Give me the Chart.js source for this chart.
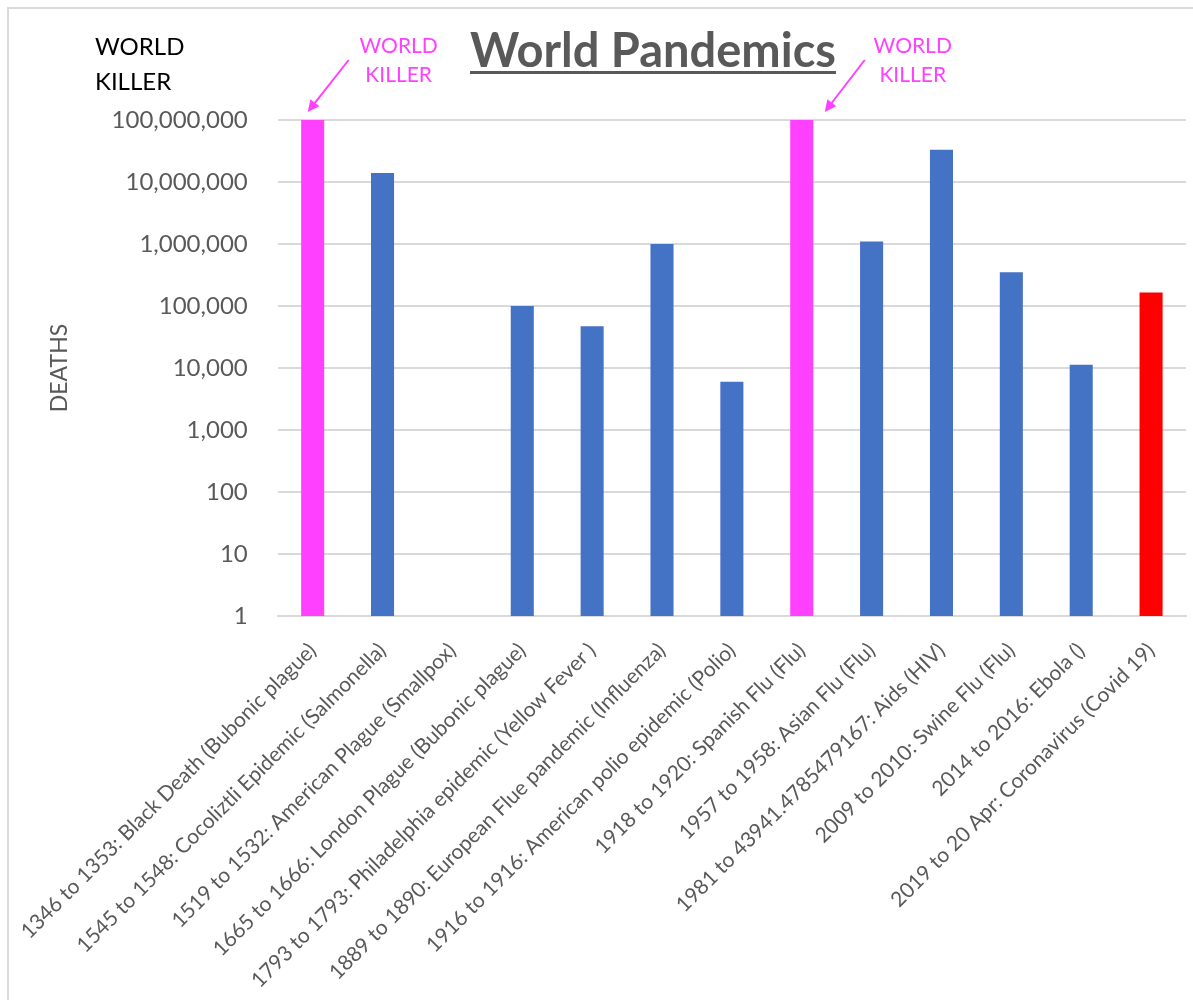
<!DOCTYPE html>
<html lang="en">
<head>
  <meta charset="UTF-8" />
  <title>World Pandemics</title>
  <style>
    html, body {
      margin: 0;
      padding: 0;
      background: #fff;
      overflow: hidden;
    }
    #pandemicChart {
      display: block;
    }
  </style>
  <script src="https://cdn.jsdelivr.net/npm/chart.js"></script>
</head>
<body>

<canvas id="pandemicChart" width="1193" height="1000"></canvas>

<script>
  const categories = [
    "1346 to 1353: Black Death (Bubonic plague)",
    "1545 to 1548: Cocoliztli Epidemic (Salmonella)",
    "1519 to 1532: American Plague (Smallpox)",
    "1665 to 1666: London Plague (Bubonic plague)",
    "1793 to 1793: Philadelphia epidemic (Yellow Fever )",
    "1889 to 1890: European Flue pandemic (Influenza)",
    "1916 to 1916: American polio epidemic (Polio)",
    "1918 to 1920: Spanish Flu (Flu)",
    "1957 to 1958: Asian Flu (Flu)",
    "1981 to 43941.4785479167: Aids (HIV)",
    "2009 to 2010: Swine Flu (Flu)",
    "2014 to 2016: Ebola ()",
    "2019 to 20 Apr: Coronavirus (Covid 19)"
  ];
  // deaths per pandemic (the smallpox row is empty in the source)
  const deaths = [100000000, 14000000, null, 100000, 47000, 1000000, 6000,
                  100000000, 1100000, 33000000, 350000, 11300, 165000];
  const yTicks = [1, 10, 100, 1000, 10000, 100000, 1000000, 10000000, 100000000];
  const worldKillers = [0, 7]; // bars tagged "WORLD KILLER"

  const BLUE = "#4472C4";
  const PINK = "#FF40FF";
  const RED = "#FF0000";
  const GREY = "#595959";
  const FONT = "Lato, 'Open Sans', sans-serif";

  const barColors = categories.map((c, i) => {
    if (worldKillers.includes(i)) return PINK;
    if (i === categories.length - 1) return RED;
    return BLUE;
  });

  // frame, title and the "WORLD KILLER" notes
  const decorations = {
    id: "decorations",
    beforeDraw(chart) {
      const ctx = chart.ctx;
      ctx.save();
      ctx.strokeStyle = "#d9d9d9";
      ctx.lineWidth = 2;
      ctx.beginPath();
      ctx.moveTo(8, 1000);
      ctx.lineTo(8, 8);
      ctx.lineTo(1193, 8);
      ctx.stroke();
      ctx.restore();
    },
    afterDraw(chart) {
      const ctx = chart.ctx;
      const xs = chart.scales.x;
      ctx.save();

      // title
      ctx.font = "bold 47px " + FONT;
      ctx.fillStyle = GREY;
      ctx.textAlign = "center";
      ctx.textBaseline = "alphabetic";
      const title = "World Pandemics";
      const tx = 653;
      ctx.fillText(title, tx, 67);
      const tw = ctx.measureText(title).width;
      ctx.fillRect(tx - tw / 2, 71, tw, 3);

      // stray black text box
      ctx.font = "24px " + FONT;
      ctx.fillStyle = "#000";
      ctx.textAlign = "left";
      ctx.textBaseline = "middle";
      ctx.fillText("WORLD", 95, 47);
      ctx.fillText("KILLER", 95, 82);

      // pink notes with arrows
      const notes = [
        { idx: worldKillers[0], textDx: 86, fromDx: 36, toDx: -5 },
        { idx: worldKillers[1], textDx: 111, fromDx: 63, toDx: 23 }
      ];
      notes.forEach(n => {
        const bx = xs.getPixelForValue(n.idx);
        ctx.font = "21px " + FONT;
        ctx.fillStyle = PINK;
        ctx.textAlign = "center";
        ctx.fillText("WORLD", bx + n.textDx, 46);
        ctx.fillText("KILLER", bx + n.textDx, 75);

        const x1 = bx + n.fromDx, y1 = 60;
        const x2 = bx + n.toDx, y2 = 112;
        const ang = Math.atan2(y2 - y1, x2 - x1);
        const head = 13;
        ctx.strokeStyle = PINK;
        ctx.lineWidth = 2;
        ctx.beginPath();
        ctx.moveTo(x1, y1);
        ctx.lineTo(x2 - Math.cos(ang) * head * 0.8, y2 - Math.sin(ang) * head * 0.8);
        ctx.stroke();
        ctx.beginPath();
        ctx.moveTo(x2, y2);
        ctx.lineTo(x2 - head * Math.cos(ang - 0.45), y2 - head * Math.sin(ang - 0.45));
        ctx.lineTo(x2 - head * Math.cos(ang + 0.45), y2 - head * Math.sin(ang + 0.45));
        ctx.closePath();
        ctx.fill();
      });
      ctx.restore();
    }
  };

  const ctx = document.getElementById("pandemicChart").getContext("2d");
  new Chart(ctx, {
    type: "bar",
    data: {
      labels: categories,
      datasets: [{
        label: "Deaths",
        data: deaths,
        backgroundColor: barColors,
        borderWidth: 0,
        categoryPercentage: 1,
        barPercentage: 0.33
      }]
    },
    options: {
      responsive: false,
      animation: false,
      layout: { padding: { top: 120, right: 7, left: 44, bottom: 0 } },
      plugins: {
        legend: { display: false },
        tooltip: { enabled: false }
      },
      scales: {
        y: {
          type: "logarithmic",
          min: 1,
          max: 100000000,
          afterBuildTicks: s => { s.ticks = yTicks.map(v => ({ value: v })); },
          afterFit: s => { s.width = 232; },
          ticks: {
            color: GREY,
            font: { family: FONT, size: 24 },
            padding: 30,
            callback: v => Number(v).toLocaleString("en-US")
          },
          grid: { color: "#d9d9d9", lineWidth: 2, drawTicks: false },
          border: { display: false },
          title: {
            display: true,
            text: "DEATHS",
            color: GREY,
            font: { family: FONT, size: 23 },
            padding: 0
          }
        },
        x: {
          afterFit: s => { s.height = 384; },
          grid: { display: false },
          border: { color: "#d9d9d9", width: 2 },
          ticks: {
            color: GREY,
            font: { family: FONT, size: 21 },
            autoSkip: false,
            minRotation: 45,
            maxRotation: 45,
            padding: 14
          }
        }
      }
    },
    plugins: [decorations]
  });
</script>

</body>
</html>
